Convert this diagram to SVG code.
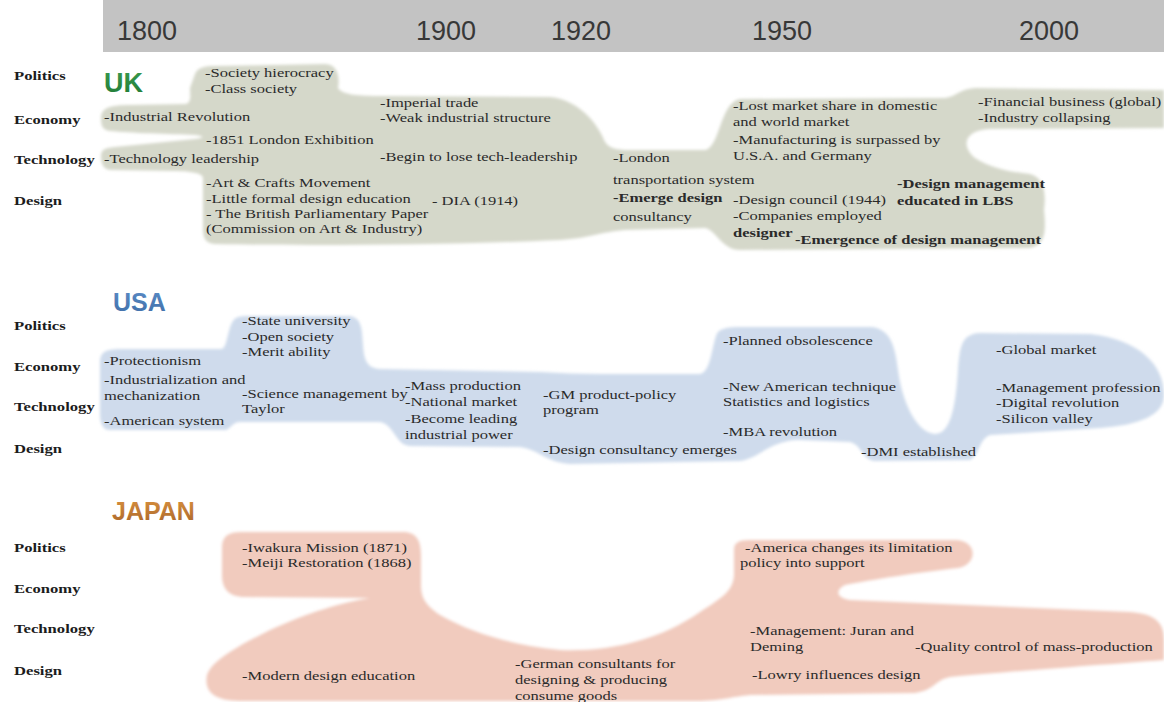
<svg xmlns="http://www.w3.org/2000/svg" width="1164" height="702" viewBox="0 0 1164 702">
<style>
.t{font-family:"Liberation Serif","Times New Roman",serif;font-size:13px;fill:#2a2a2a}
.b{font-weight:bold}
.r{font-family:"Liberation Serif","Times New Roman",serif;font-size:13px;font-weight:bold;fill:#1c1c1c}
.yr{font-family:"Liberation Sans",Arial,sans-serif;font-size:27px;fill:#383838}
.c{font-family:"Liberation Sans",Arial,sans-serif;font-weight:bold}
</style>
<defs>
<filter id="soft" x="-5%" y="-5%" width="110%" height="110%"><feGaussianBlur stdDeviation="1.5"/></filter>
<linearGradient id="gUK" x1="0" y1="0" x2="0" y2="1"><stop offset="0" stop-color="#3a9a50"/><stop offset="1" stop-color="#1f7a35"/></linearGradient>
<linearGradient id="gUS" x1="0" y1="0" x2="0" y2="1"><stop offset="0" stop-color="#5b8cc6"/><stop offset="1" stop-color="#3f6ea8"/></linearGradient>
<linearGradient id="gJP" x1="0" y1="0" x2="0" y2="1"><stop offset="0" stop-color="#d9913f"/><stop offset="1" stop-color="#a9652a"/></linearGradient>
</defs>
<rect width="1164" height="702" fill="#ffffff"/>
<g id="timeline">
<rect x="103" y="0" width="1061" height="52" fill="#c3c3c3"/>
<text class="yr" x="117" y="40">1800</text>
<text class="yr" x="416" y="40">1900</text>
<text class="yr" x="551" y="40">1920</text>
<text class="yr" x="752" y="40">1950</text>
<text class="yr" x="1019" y="40">2000</text>
</g>
<g id="regions" filter="url(#soft)">
<path id="uk-region" fill="#d5d8ca" d="M 101,118 C 101,108 110,105 130,105 L 185,104 C 192,103 190,95 190,88 L 195,74 C 198,67 205,66 215,66 L 325,64 C 338,64 340,78 338,88 C 342,95 360,96 380,96 L 550,97 C 580,100 598,125 604,140 C 608,148 615,150 630,150 L 705,150 C 720,148 720,102 740,99 L 945,98 C 955,97 960,89 975,88 L 1164,90 L 1164,128 L 990,129 C 965,130 960,145 975,158 C 990,168 1010,172 1030,174 C 1045,178 1046,195 1044,210 C 1046,230 1046,245 1030,248 L 740,250 C 722,250 716,230 705,228 L 625,230 C 600,232 590,238 560,240 C 450,245 300,246 215,244 C 203,243 203,235 203,225 L 203,178 C 203,173 190,171 170,171 L 112,170 C 102,170 101,162 101,156 C 101,150 104,148 115,147 L 195,139 C 205,138 205,136 195,135 C 170,134 130,133 110,131 C 102,130 101,125 101,118 Z"/>
<path id="usa-region" fill="#cfdbec" d="M 100,362 C 100,352 106,349 120,349 L 222,349 C 228,347 228,322 236,318 C 240,316 245,316 250,316 L 350,316 C 362,318 362,330 363,345 C 364,362 368,368 380,369 L 540,372 C 560,373 580,374 600,374 L 700,374 C 712,372 712,340 718,332 C 722,328 730,327 740,327 L 870,327 C 890,328 895,345 898,370 C 902,400 915,432 935,434 C 952,434 956,400 958,370 C 960,345 962,334 980,333 L 1090,334 C 1140,340 1164,365 1164,395 C 1164,415 1140,425 1100,428 L 990,435 C 978,440 980,455 970,460 L 875,461 C 862,460 862,445 850,442 L 800,440 C 770,440 760,458 740,461 L 570,464 C 545,462 540,450 520,447 L 410,446 C 395,445 395,425 380,422 L 240,422 C 232,422 230,430 225,430 L 110,430 C 102,430 100,422 100,414 Z"/>
<path id="japan-region" fill="#f1cbbe" d="M 222,548 C 222,536 228,532 242,532 L 403,532 C 417,532 421,541 421,556 L 421,585 C 421,597 425,605 440,615 C 470,632 510,645 560,650 C 610,652 660,640 700,612 C 725,596 733,590 734,575 L 734,550 C 734,543 738,540 750,540 L 955,540 C 978,540 978,565 958,568 C 920,572 870,580 845,585 C 835,590 836,598 850,600 L 1130,612 C 1158,614 1164,625 1164,640 L 1164,660 C 1100,665 1000,672 950,677 C 935,680 935,690 915,693 L 750,695 C 730,697 725,700 700,701 L 240,701 C 212,701 204,690 207,675 C 212,660 240,645 270,630 C 310,612 340,603 370,598 L 245,597 C 228,597 222,588 222,575 Z"/>
</g>
<g id="country-labels">
<text class="c" x="104" y="92" font-size="27" fill="url(#gUK)">UK</text>
<text class="c" x="113" y="311" font-size="25" fill="url(#gUS)">USA</text>
<text class="c" x="112" y="520" font-size="25" fill="url(#gJP)">JAPAN</text>
</g>
<g id="row-labels">
<g transform="translate(14,80) scale(1.28,1)"><text class="r">Politics</text></g>
<g transform="translate(14,124) scale(1.28,1)"><text class="r">Economy</text></g>
<g transform="translate(14,164) scale(1.28,1)"><text class="r">Technology</text></g>
<g transform="translate(14,205) scale(1.28,1)"><text class="r">Design</text></g>
<g transform="translate(14,330) scale(1.28,1)"><text class="r">Politics</text></g>
<g transform="translate(14,371) scale(1.28,1)"><text class="r">Economy</text></g>
<g transform="translate(14,411) scale(1.28,1)"><text class="r">Technology</text></g>
<g transform="translate(14,453) scale(1.28,1)"><text class="r">Design</text></g>
<g transform="translate(14,552) scale(1.28,1)"><text class="r">Politics</text></g>
<g transform="translate(14,593) scale(1.28,1)"><text class="r">Economy</text></g>
<g transform="translate(14,633) scale(1.28,1)"><text class="r">Technology</text></g>
<g transform="translate(14,675) scale(1.28,1)"><text class="r">Design</text></g>
</g>
<g id="uk-events">
<g id="uk-society" transform="translate(205,77) scale(1.27,1)"><text class="t"><tspan x="0">-Society hierocracy</tspan><tspan x="0" dy="16">-Class society</tspan></text></g>
<g id="uk-industrial" transform="translate(104,121) scale(1.27,1)"><text class="t">-Industrial Revolution</text></g>
<g id="uk-imperial" transform="translate(380,107) scale(1.27,1)"><text class="t"><tspan x="0">-Imperial trade</tspan><tspan x="0" dy="15">-Weak industrial structure</tspan></text></g>
<g id="uk-exhibition" transform="translate(206,144) scale(1.27,1)"><text class="t">-1851 London Exhibition</text></g>
<g id="uk-techlead" transform="translate(104,163) scale(1.27,1)"><text class="t">-Technology leadership</text></g>
<g id="uk-lose" transform="translate(380,161) scale(1.27,1)"><text class="t">-Begin to lose tech-leadership</text></g>
<g id="uk-arts" transform="translate(206,187) scale(1.27,1)"><text class="t"><tspan x="0">-Art &amp; Crafts  Movement</tspan><tspan x="0" dy="16">-Little formal design education</tspan><tspan x="0" dy="15">- The British Parliamentary Paper</tspan><tspan x="0" dy="15">(Commission on Art &amp; Industry)</tspan></text></g>
<g id="uk-dia" transform="translate(432,205) scale(1.27,1)"><text class="t">- DIA (1914)</text></g>
<g id="uk-london" transform="translate(613,162) scale(1.27,1)"><text class="t"><tspan x="0">-London</tspan><tspan x="0" dy="22">transportation system</tspan><tspan x="0" dy="18" class="b">-Emerge design</tspan><tspan x="0" dy="19">consultancy</tspan></text></g>
<g id="uk-lost" transform="translate(733,110) scale(1.27,1)"><text class="t"><tspan x="0">-Lost market share in domestic</tspan><tspan x="0" dy="16">and world market</tspan><tspan x="0" dy="18">-Manufacturing is surpassed by</tspan><tspan x="0" dy="16">U.S.A. and Germany</tspan></text></g>
<g id="uk-council" transform="translate(733,204) scale(1.27,1)"><text class="t"><tspan x="0">-Design council (1944)</tspan><tspan x="0" dy="16">-Companies employed</tspan><tspan x="0" dy="17" class="b">designer</tspan></text></g>
<g id="uk-emergence" transform="translate(795,244) scale(1.27,1)"><text class="t b">-Emergence of design management</text></g>
<g id="uk-lbs" transform="translate(897,188) scale(1.27,1)"><text class="t b"><tspan x="0">-Design management</tspan><tspan x="0" dy="17">educated in LBS</tspan></text></g>
<g id="uk-financial" transform="translate(978,106) scale(1.27,1)"><text class="t"><tspan x="0">-Financial business (global)</tspan><tspan x="0" dy="16">-Industry collapsing</tspan></text></g>
</g>
<g id="usa-events">
<g id="usa-state" transform="translate(242,325) scale(1.27,1)"><text class="t"><tspan x="0">-State university</tspan><tspan x="0" dy="16">-Open society</tspan><tspan x="0" dy="15">-Merit ability</tspan></text></g>
<g id="usa-protect" transform="translate(104,365) scale(1.27,1)"><text class="t"><tspan x="0">-Protectionism</tspan><tspan x="0" dy="19">-Industrialization and</tspan><tspan x="0" dy="16">mechanization</tspan><tspan x="0" dy="25">-American system</tspan></text></g>
<g id="usa-taylor" transform="translate(242,398) scale(1.27,1)"><text class="t"><tspan x="0">-Science management by</tspan><tspan x="0" dy="15">Taylor</tspan></text></g>
<g id="usa-mass" transform="translate(405,390) scale(1.27,1)"><text class="t"><tspan x="0">-Mass production</tspan><tspan x="0" dy="16">-National market</tspan><tspan x="0" dy="17">-Become leading</tspan><tspan x="0" dy="16">industrial power</tspan></text></g>
<g id="usa-gm" transform="translate(543,399) scale(1.27,1)"><text class="t"><tspan x="0">-GM product-policy</tspan><tspan x="0" dy="15">program</tspan></text></g>
<g id="usa-consult" transform="translate(543,454) scale(1.27,1)"><text class="t">-Design consultancy emerges</text></g>
<g id="usa-planned" transform="translate(723,345) scale(1.27,1)"><text class="t">-Planned obsolescence</text></g>
<g id="usa-newtech" transform="translate(723,391) scale(1.27,1)"><text class="t"><tspan x="0">-New American technique</tspan><tspan x="0" dy="15">Statistics and logistics</tspan></text></g>
<g id="usa-mba" transform="translate(723,436) scale(1.27,1)"><text class="t">-MBA revolution</text></g>
<g id="usa-dmi" transform="translate(861,456) scale(1.27,1)"><text class="t">-DMI established</text></g>
<g id="usa-global" transform="translate(996,354) scale(1.27,1)"><text class="t">-Global market</text></g>
<g id="usa-mgmt" transform="translate(996,392) scale(1.27,1)"><text class="t"><tspan x="0">-Management profession</tspan><tspan x="0" dy="15">-Digital revolution</tspan><tspan x="0" dy="16">-Silicon valley</tspan></text></g>
</g>
<g id="japan-events">
<g id="jp-iwakura" transform="translate(242,552) scale(1.27,1)"><text class="t"><tspan x="0">-Iwakura Mission (1871)</tspan><tspan x="0" dy="15">-Meiji Restoration (1868)</tspan></text></g>
<g id="jp-modern" transform="translate(242,680) scale(1.27,1)"><text class="t">-Modern design education</text></g>
<g id="jp-german" transform="translate(515,668) scale(1.27,1)"><text class="t"><tspan x="0">-German consultants for</tspan><tspan x="0" dy="16">designing &amp; producing</tspan><tspan x="0" dy="16">consume goods</tspan></text></g>
<g id="jp-america" transform="translate(745,552) scale(1.27,1)"><text class="t"><tspan x="0">-America changes its limitation</tspan><tspan x="-4" dy="15">policy into support</tspan></text></g>
<g id="jp-juran" transform="translate(750,635) scale(1.27,1)"><text class="t"><tspan x="0">-Management: Juran and</tspan><tspan x="0" dy="16">Deming</tspan></text></g>
<g id="jp-quality" transform="translate(915,651) scale(1.27,1)"><text class="t">-Quality control of mass-production</text></g>
<g id="jp-lowry" transform="translate(752,679) scale(1.27,1)"><text class="t">-Lowry influences design</text></g>
</g>
</svg>
